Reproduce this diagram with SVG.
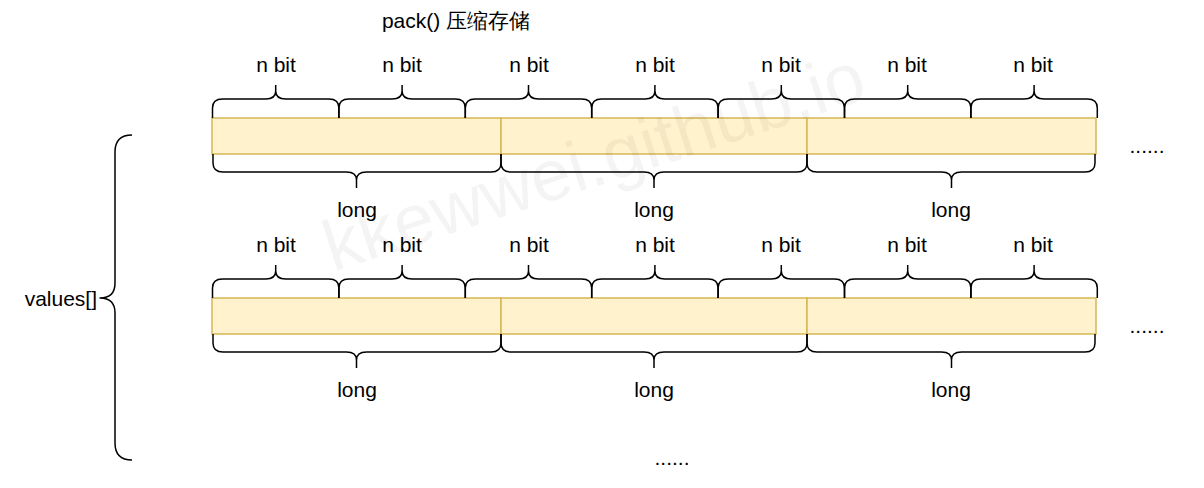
<svg xmlns="http://www.w3.org/2000/svg" width="1204" height="488" viewBox="0 0 1204 488">
<style>
  .t { font-family: "Liberation Sans", Arial, sans-serif; font-size: 21px; fill: #000; text-anchor: middle; }
  .cell { fill: #fff2cc; stroke: #d6b656; stroke-width: 1.5; }
  .br { fill: none; stroke: #000; stroke-width: 1.5; stroke-linejoin: round; }
  .wm { font-family: "Liberation Sans", Arial, sans-serif; font-size: 72px; fill: #000; fill-opacity: 0.045; }
</style>
<defs>
  <path id="nb" class="br" d="M0 0 L0 -10 Q0 -19 10 -19 L53.2 -19 Q63.2 -19 63.2 -27 L63.2 -33 M63.2 -27 Q63.2 -19 73.2 -19 L116.4 -19 Q126.4 -19 126.4 -10 L126.4 0"/>
</defs>
<rect width="1204" height="488" fill="#fff"/>
<text id="title" class="t" x="456" y="28" font-family="'Liberation Sans', 'Noto Sans CJK SC', sans-serif">pack() 压缩存储</text>

<g id="row1">
  <g id="r1-cells">
    <rect class="cell" x="212" y="118" width="289" height="36"/>
    <rect class="cell" x="501" y="118" width="306" height="36"/>
    <rect class="cell" x="807" y="118" width="289" height="36"/>
  </g>
  <g id="r1-nbit">
    <use href="#nb" x="212.5" y="118"/>
    <use href="#nb" x="338.9" y="118"/>
    <use href="#nb" x="465.3" y="118"/>
    <use href="#nb" x="591.7" y="118"/>
    <use href="#nb" x="718.1" y="118"/>
    <use href="#nb" x="844.5" y="118"/>
    <use href="#nb" x="970.9" y="118"/>
    <text class="t" x="276" y="72">n bit</text>
    <text class="t" x="402" y="72">n bit</text>
    <text class="t" x="529" y="72">n bit</text>
    <text class="t" x="655" y="72">n bit</text>
    <text class="t" x="781" y="72">n bit</text>
    <text class="t" x="907" y="72">n bit</text>
    <text class="t" x="1033" y="72">n bit</text>
  </g>
  <g id="r1-long">
    <path class="br" d="M213 154 L213 163 Q213 172 223 172 L346.5 172 Q356.5 172 356.5 180 L356.5 188 M356.5 180 Q356.5 172 366.5 172 L491 172 Q501 172 501 163 L501 154"/>
    <path class="br" d="M501 154 L501 163 Q501 172 511 172 L644 172 Q654 172 654 180 L654 188 M654 180 Q654 172 664 172 L797 172 Q807 172 807 163 L807 154"/>
    <path class="br" d="M807 154 L807 163 Q807 172 817 172 L941.5 172 Q951.5 172 951.5 180 L951.5 188 M951.5 180 Q951.5 172 961.5 172 L1085 172 Q1095 172 1095 163 L1095 154"/>
    <text class="t" x="357" y="217">long</text>
    <text class="t" x="654" y="217">long</text>
    <text class="t" x="951" y="217">long</text>
  </g>
  <text class="t" x="1147" y="153">......</text>
</g>

<g id="row2" transform="translate(0,180)">
  <g id="r2-cells">
    <rect class="cell" x="212" y="118" width="289" height="36"/>
    <rect class="cell" x="501" y="118" width="306" height="36"/>
    <rect class="cell" x="807" y="118" width="289" height="36"/>
  </g>
  <g id="r2-nbit">
    <use href="#nb" x="212.5" y="118"/>
    <use href="#nb" x="338.9" y="118"/>
    <use href="#nb" x="465.3" y="118"/>
    <use href="#nb" x="591.7" y="118"/>
    <use href="#nb" x="718.1" y="118"/>
    <use href="#nb" x="844.5" y="118"/>
    <use href="#nb" x="970.9" y="118"/>
    <text class="t" x="276" y="72">n bit</text>
    <text class="t" x="402" y="72">n bit</text>
    <text class="t" x="529" y="72">n bit</text>
    <text class="t" x="655" y="72">n bit</text>
    <text class="t" x="781" y="72">n bit</text>
    <text class="t" x="907" y="72">n bit</text>
    <text class="t" x="1033" y="72">n bit</text>
  </g>
  <g id="r2-long">
    <path class="br" d="M213 154 L213 163 Q213 172 223 172 L346.5 172 Q356.5 172 356.5 180 L356.5 188 M356.5 180 Q356.5 172 366.5 172 L491 172 Q501 172 501 163 L501 154"/>
    <path class="br" d="M501 154 L501 163 Q501 172 511 172 L644 172 Q654 172 654 180 L654 188 M654 180 Q654 172 664 172 L797 172 Q807 172 807 163 L807 154"/>
    <path class="br" d="M807 154 L807 163 Q807 172 817 172 L941.5 172 Q951.5 172 951.5 180 L951.5 188 M951.5 180 Q951.5 172 961.5 172 L1085 172 Q1095 172 1095 163 L1095 154"/>
    <text class="t" x="357" y="217">long</text>
    <text class="t" x="654" y="217">long</text>
    <text class="t" x="951" y="217">long</text>
  </g>
  <text class="t" x="1147" y="153">......</text>
</g>

<g id="values">
  <path class="br" d="M132 135 Q115 135 115 152 L115 283 Q115 298 100 298 Q115 298 115 313 L115 443 Q115 460 132 460"/>
  <text class="t" x="97" y="306" style="text-anchor:end">values[]</text>
</g>
<text id="more" class="t" x="672" y="465">......</text>

<text class="wm" x="333" y="272" transform="rotate(-18 333 272)">kkewwei.github.io</text>
</svg>
